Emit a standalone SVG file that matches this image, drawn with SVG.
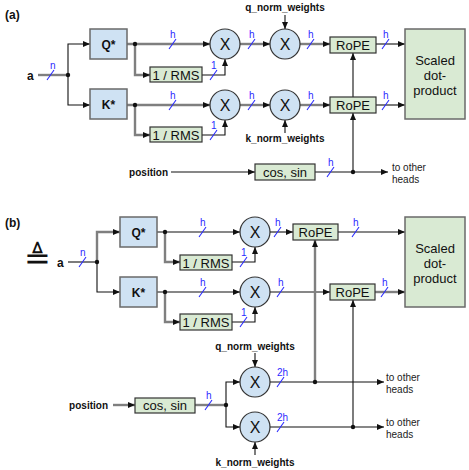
<svg xmlns="http://www.w3.org/2000/svg" width="469" height="470" viewBox="0 0 469 470">
<defs>
<marker id="arr" markerUnits="userSpaceOnUse" markerWidth="7" markerHeight="6" refX="7" refY="3" orient="auto">
<path d="M0,0 L7,3 L0,6 z" fill="#111"/>
</marker>
<style>
text{font-family:"Liberation Sans",Arial,sans-serif;fill:#111}
.lbl{font-weight:bold;font-size:10px}
.big{font-weight:bold;font-size:12px}
.blk{fill:none;stroke:#111;stroke-width:1.1}
.gry{fill:none;stroke:#7f7f7f;stroke-width:2.4}
.ar{marker-end:url(#arr)}
.blue{fill:#cfe2f3;stroke:#6a6a6a;stroke-width:1.5}
.circ{fill:#cfe2f3;stroke:#333;stroke-width:1.2}
.green{fill:#d9ead3;stroke:#333;stroke-width:1.2}
.sdp{fill:#d9ead3;stroke:#6a6a6a;stroke-width:1.5}
.bt{font-size:13px;text-anchor:middle}
.x{font-size:16px;text-anchor:middle}
.sl{stroke:#2b2bff;stroke-width:1.1}
.bn{fill:#2b2bff;font-size:10px}
.oh{font-size:10px;fill:#222}
.dot{fill:#111}
</style>
</defs>

<text class="big" x="5" y="19">(a)</text>
<text class="big" x="5" y="227">(b)</text>

<g id="connectors">
<!-- (a) -->
<path class="gry" d="M38,75 H68"/>
<path class="blk ar" d="M68,75 V44 H90"/>
<path class="blk ar" d="M68,75 V105 H90"/>
<path class="gry ar" d="M127,44 H210"/>
<path class="gry ar" d="M135,44 V75 H150"/>
<path class="blk ar" d="M202,75 H225 V59"/>
<path class="gry ar" d="M240,44 H270"/>
<path class="blk ar" d="M285,15 V29"/>
<path class="gry ar" d="M300,44 H330"/>
<path class="blk ar" d="M376,44 H405"/>
<path class="gry ar" d="M127,105 H210"/>
<path class="gry ar" d="M135,105 V135 H150"/>
<path class="blk ar" d="M202,135 H225 V120"/>
<path class="gry ar" d="M240,105 H270"/>
<path class="blk ar" d="M285,133 V120"/>
<path class="gry ar" d="M300,105 H330"/>
<path class="blk ar" d="M376,105 H405"/>
<path class="blk ar" d="M353,172 V113"/>
<path class="blk ar" d="M353,97 V53"/>
<path class="blk ar" d="M171,172 H255"/>
<path class="blk ar" d="M315,172 H388"/>
<circle class="dot" cx="68" cy="75" r="2.2"/>
<circle class="dot" cx="135" cy="44" r="2.2"/>
<circle class="dot" cx="135" cy="105" r="2.2"/>
<circle class="dot" cx="353" cy="172" r="2.2"/>
<!-- (b) -->
<path class="blk" d="M68,262 H97"/>
<path class="gry ar" d="M97,262 V232 H120"/>
<path class="blk ar" d="M97,262 V292 H120"/>
<path class="blk ar" d="M157,232 H240"/>
<path class="gry ar" d="M165,232 V262 H180"/>
<path class="blk ar" d="M232,262 H255 V247"/>
<path class="blk ar" d="M270,232 H293"/>
<path class="blk ar" d="M338,232 H405"/>
<path class="blk ar" d="M157,292 H240"/>
<path class="gry ar" d="M165,292 V322 H180"/>
<path class="blk ar" d="M232,322 H255 V307"/>
<path class="blk ar" d="M270,292 H330"/>
<path class="gry ar" d="M375,292 H405"/>
<path class="gry ar" d="M315,382 V240"/>
<path class="blk ar" d="M353,427 V300"/>
<path class="blk ar" d="M255,353 V367"/>
<path class="blk ar" d="M255,455 V442"/>
<path class="gry ar" d="M113,405 H135"/>
<path class="gry" d="M195,405 H226"/>
<path class="blk ar" d="M226,405 V382 H240"/>
<path class="blk ar" d="M226,405 V427 H240"/>
<path class="blk ar" d="M270,382 H384"/>
<path class="blk ar" d="M270,427 H384"/>
<circle class="dot" cx="97" cy="262" r="2.2"/>
<circle class="dot" cx="165" cy="232" r="2.2"/>
<circle class="dot" cx="165" cy="292" r="2.2"/>
<circle class="dot" cx="226" cy="405" r="2.2"/>
<circle class="dot" cx="315" cy="382" r="2.2"/>
<circle class="dot" cx="353" cy="427" r="2.2"/>
</g>

<g id="bus-widths">
<!-- (a) -->
<line class="sl" x1="47" y1="80" x2="54" y2="70"/><text class="bn" x="50" y="69">n</text>
<line class="sl" x1="169" y1="49" x2="176" y2="39"/><text class="bn" x="170" y="38">h</text>
<line class="sl" x1="210" y1="80" x2="217" y2="70"/><text class="bn" x="211" y="69">1</text>
<line class="sl" x1="248" y1="49" x2="255" y2="39"/><text class="bn" x="249" y="38">h</text>
<line class="sl" x1="307" y1="49" x2="314" y2="39"/><text class="bn" x="308" y="38">h</text>
<line class="sl" x1="382" y1="49" x2="389" y2="39"/><text class="bn" x="383" y="38">h</text>
<line class="sl" x1="169" y1="110" x2="176" y2="100"/><text class="bn" x="170" y="99">h</text>
<line class="sl" x1="210" y1="140" x2="217" y2="130"/><text class="bn" x="211" y="129">1</text>
<line class="sl" x1="248" y1="110" x2="255" y2="100"/><text class="bn" x="249" y="99">h</text>
<line class="sl" x1="307" y1="110" x2="314" y2="100"/><text class="bn" x="308" y="99">h</text>
<line class="sl" x1="382" y1="110" x2="389" y2="100"/><text class="bn" x="383" y="99">h</text>
<line class="sl" x1="327" y1="177" x2="334" y2="167"/><text class="bn" x="328" y="166">h</text>
<!-- (b) -->
<line class="sl" x1="79" y1="267" x2="86" y2="257"/><text class="bn" x="80" y="256">n</text>
<line class="sl" x1="199" y1="237" x2="206" y2="227"/><text class="bn" x="200" y="226">h</text>
<line class="sl" x1="240" y1="267" x2="247" y2="257"/><text class="bn" x="241" y="256">1</text>
<line class="sl" x1="274" y1="237" x2="281" y2="227"/><text class="bn" x="275" y="226">h</text>
<line class="sl" x1="352" y1="237" x2="359" y2="227"/><text class="bn" x="353" y="226">h</text>
<line class="sl" x1="199" y1="297" x2="206" y2="287"/><text class="bn" x="200" y="286">h</text>
<line class="sl" x1="240" y1="327" x2="247" y2="317"/><text class="bn" x="241" y="316">1</text>
<line class="sl" x1="277" y1="297" x2="284" y2="287"/><text class="bn" x="278" y="286">h</text>
<line class="sl" x1="381" y1="297" x2="388" y2="287"/><text class="bn" x="382" y="286">h</text>
<line class="sl" x1="205" y1="410" x2="212" y2="400"/><text class="bn" x="206" y="399">h</text>
<line class="sl" x1="277" y1="387" x2="284" y2="377"/><text class="bn" x="277" y="376">2h</text>
<line class="sl" x1="277" y1="432" x2="284" y2="422"/><text class="bn" x="277" y="421">2h</text>
</g>

<g id="labels">
<text class="big" x="27" y="80">a</text>
<text class="lbl" x="285" y="11" text-anchor="middle">q_norm_weights</text>
<text class="lbl" x="285" y="142" text-anchor="middle">k_norm_weights</text>
<text class="lbl" x="168" y="176" text-anchor="end">position</text>
<text class="oh" x="392" y="171">to other</text>
<text class="oh" x="392" y="183">heads</text>
<text x="37" y="269" font-family="DejaVu Sans" font-size="32" fill="#222" text-anchor="middle">≜</text>
<text class="big" x="57" y="267">a</text>
<text class="lbl" x="255" y="350" text-anchor="middle">q_norm_weights</text>
<text class="lbl" x="255" y="466" text-anchor="middle">k_norm_weights</text>
<text class="lbl" x="108" y="409" text-anchor="end">position</text>
<text class="oh" x="386" y="381">to other</text>
<text class="oh" x="386" y="393">heads</text>
<text class="oh" x="386" y="426">to other</text>
<text class="oh" x="386" y="438">heads</text>
</g>

<g id="a-Q"><rect class="blue" x="90" y="29" width="37" height="30"/><text class="big" x="108.5" y="49" text-anchor="middle">Q*</text></g>
<g id="a-K"><rect class="blue" x="90" y="89" width="37" height="30"/><text class="big" x="108.5" y="109" text-anchor="middle">K*</text></g>
<g id="a-rmsQ"><rect class="green" x="150" y="67" width="52" height="15"/><text class="bt" x="176" y="79.5">1 / RMS</text></g>
<g id="a-rmsK"><rect class="green" x="150" y="127" width="52" height="15"/><text class="bt" x="176" y="139.5">1 / RMS</text></g>
<g id="a-mulQ1"><circle class="circ" cx="225" cy="44" r="15"/><text class="x" x="225" y="50">X</text></g>
<g id="a-mulK1"><circle class="circ" cx="225" cy="105" r="15"/><text class="x" x="225" y="111">X</text></g>
<g id="a-mulQ2"><circle class="circ" cx="285" cy="44" r="15"/><text class="x" x="285" y="50">X</text></g>
<g id="a-mulK2"><circle class="circ" cx="285" cy="105" r="15"/><text class="x" x="285" y="111">X</text></g>
<g id="a-ropeQ"><rect class="green" x="330" y="37" width="46" height="16"/><text class="bt" x="353" y="50">RoPE</text></g>
<g id="a-ropeK"><rect class="green" x="330" y="97" width="46" height="16"/><text class="bt" x="353" y="110">RoPE</text></g>
<g id="a-sdp"><rect class="sdp" x="405" y="29" width="60" height="90"/><text class="bt" x="435" y="65">Scaled</text><text class="bt" x="435" y="80">dot-</text><text class="bt" x="435" y="95">product</text></g>
<g id="a-cossin"><rect class="green" x="255" y="164" width="60" height="16"/><text class="bt" x="285" y="177">cos, sin</text></g>

<g id="b-Q"><rect class="blue" x="120" y="217" width="37" height="30"/><text class="big" x="138.5" y="237" text-anchor="middle">Q*</text></g>
<g id="b-K"><rect class="blue" x="120" y="277" width="37" height="30"/><text class="big" x="138.5" y="297" text-anchor="middle">K*</text></g>
<g id="b-rmsQ"><rect class="green" x="180" y="255" width="52" height="15"/><text class="bt" x="206" y="267.5">1 / RMS</text></g>
<g id="b-rmsK"><rect class="green" x="180" y="314" width="52" height="16"/><text class="bt" x="206" y="327">1 / RMS</text></g>
<g id="b-mulQ"><circle class="circ" cx="255" cy="232" r="15"/><text class="x" x="255" y="238">X</text></g>
<g id="b-mulK"><circle class="circ" cx="255" cy="292" r="15"/><text class="x" x="255" y="298">X</text></g>
<g id="b-ropeQ"><rect class="green" x="293" y="224" width="45" height="16"/><text class="bt" x="315.5" y="237">RoPE</text></g>
<g id="b-ropeK"><rect class="green" x="330" y="284" width="45" height="16"/><text class="bt" x="352.5" y="297">RoPE</text></g>
<g id="b-sdp"><rect class="sdp" x="405" y="217" width="60" height="90"/><text class="bt" x="435" y="253">Scaled</text><text class="bt" x="435" y="268">dot-</text><text class="bt" x="435" y="283">product</text></g>
<g id="b-cossin"><rect class="green" x="135" y="398" width="60" height="15"/><text class="bt" x="165" y="410">cos, sin</text></g>
<g id="b-mulWq"><circle class="circ" cx="255" cy="382" r="15"/><text class="x" x="255" y="388">X</text></g>
<g id="b-mulWk"><circle class="circ" cx="255" cy="427" r="15"/><text class="x" x="255" y="433">X</text></g>
</svg>
